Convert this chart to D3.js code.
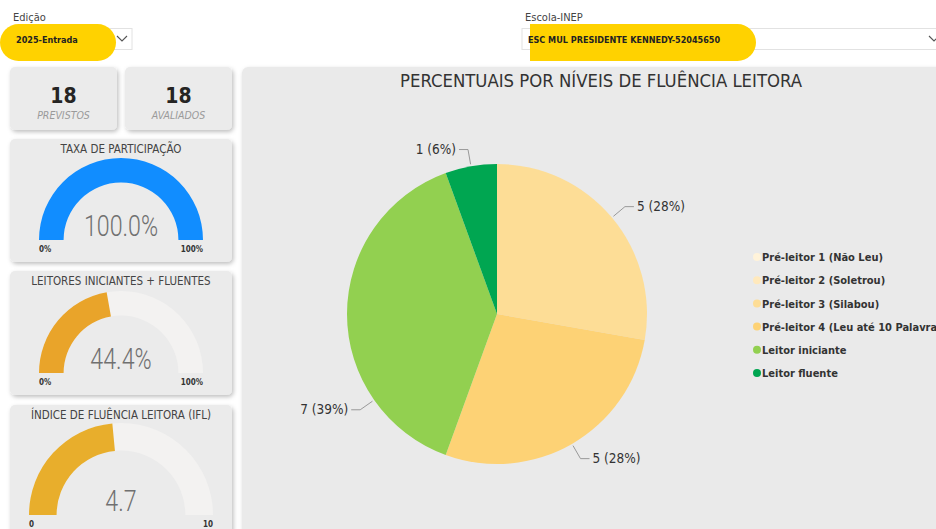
<!DOCTYPE html>
<html>
<head>
<meta charset="utf-8">
<script src="https://cdn.jsdelivr.net/npm/d3@7"></script>
<style>
  body { margin: 0; background: #fff; overflow: hidden; }
  svg { display: block; font-family: "DejaVu Sans Condensed", Roboto, sans-serif; }
</style>
</head>
<body>
<script>
// dados
var edicao = "2025-Entrada";
var escola = "ESC MUL PRESIDENTE KENNEDY-52045650";

var cardLabels = ["PREVISTOS", "AVALIADOS"];
var cardValues = [18, 18];

var gaugeTitles = ["TAXA DE PARTICIPAÇÃO", "LEITORES INICIANTES + FLUENTES", "ÍNDICE DE FLUÊNCIA LEITORA (IFL)"];
var gaugeValues = [100, 44.4, 4.7];
var gaugeMax = [100, 100, 10];
var gaugeText = ["100.0%", "44.4%", "4.7"];
var gaugeMinLabel = ["0%", "0%", "0"];
var gaugeMaxLabel = ["100%", "100%", "10"];

var niveis = ["Pré-leitor 1 (Não Leu)", "Pré-leitor 2 (Soletrou)", "Pré-leitor 3 (Silabou)",
  "Pré-leitor 4 (Leu até 10 Palavras)", "Leitor iniciante", "Leitor fluente"];
var quantidades = [0, 0, 5, 5, 7, 1];
var percentuais = ["0%", "0%", "28%", "28%", "39%", "6%"];

var width = 936, height = 529;

var svg = d3.select("body").append("svg")
  .attr("width", width)
  .attr("height", height);

var defs = svg.append("defs");
var f = defs.append("filter").attr("id", "sombra")
  .attr("x", "-10%").attr("y", "-10%").attr("width", "125%").attr("height", "130%");
f.append("feDropShadow").attr("dx", 1.5).attr("dy", 2).attr("stdDeviation", 2)
  .attr("flood-color", "#000").attr("flood-opacity", 0.25);

//filtros no topo
function filtro(x, label, boxW, hlX, hlW, texto, quadradoEsq) {
  svg.append("text").attr("x", x + 3).attr("y", 21)
    .attr("font-size", 11).attr("fill", "#444").text(label);
  svg.append("rect").attr("x", x).attr("y", 28.5).attr("width", boxW).attr("height", 21)
    .attr("fill", "#fff").attr("stroke", "#e2e2e2");
  // evidenciador amarelo
  var r = 18.5;
  var p = d3.path();
  if (quadradoEsq) {
    p.moveTo(hlX, 24);
    p.lineTo(hlX + hlW - r, 24);
    p.arcTo(hlX + hlW, 24, hlX + hlW, 24 + r, r);
    p.arcTo(hlX + hlW, 61, hlX + hlW - r, 61, r);
    p.lineTo(hlX, 61);
    p.closePath();
    svg.append("path").attr("d", p.toString()).attr("fill", "#FFD200");
  } else {
    svg.append("rect").attr("x", hlX).attr("y", 24).attr("width", hlW).attr("height", 37)
      .attr("rx", r).attr("fill", "#FFD200");
  }
  svg.append("text").attr("x", x + 6).attr("y", 42.5)
    .attr("font-size", 9).attr("font-weight", "bold").attr("fill", "#222").text(texto);
}
filtro(10, "Edição", 122, 0, 116, edicao, false);
filtro(522, "Escola-INEP", 420, 530, 226, escola, true);
svg.append("path").attr("d", "M117,36 l5,5 l5,-5").attr("fill", "none").attr("stroke", "#555").attr("stroke-width", 1.1);
svg.append("path").attr("d", "M929,36 l5,5 l5,-5").attr("fill", "none").attr("stroke", "#555").attr("stroke-width", 1.1);

//cartoes
cardValues.forEach(function (v, i) {
  var x = 10 + i * 115;
  svg.append("rect").attr("x", x).attr("y", 67).attr("width", 107).attr("height", 63)
    .attr("rx", 5).attr("fill", "#EBEBEB").attr("filter", "url(#sombra)");
  svg.append("text").attr("x", x + 53.5).attr("y", 103).attr("text-anchor", "middle")
    .attr("font-size", 21).attr("font-weight", "bold").attr("fill", "#252423").text(v);
  svg.append("text").attr("x", x + 53.5).attr("y", 119).attr("text-anchor", "middle")
    .attr("font-size", 10.5).attr("font-style", "italic").attr("fill", "#9a9a9a").text(cardLabels[i]);
});

//medidores
var gaugeCards = [{ y: 139, h: 123, cy: 240, r: 82 }, { y: 271, h: 124, cy: 373, r: 82 }, { y: 405, h: 140, cy: 515, r: 92 }];
var gaugeCores = ["#118DFF", "#E9A42A", "#E8AE2C"];

gaugeCards.forEach(function (g, i) {
  svg.append("rect").attr("x", 10).attr("y", g.y).attr("width", 222).attr("height", g.h)
    .attr("rx", 5).attr("fill", "#EBEBEB").attr("filter", "url(#sombra)");
  svg.append("text").attr("x", 121).attr("y", g.y + 14).attr("text-anchor", "middle")
    .attr("font-size", 11.5).attr("fill", "#444").text(gaugeTitles[i]);

  var ang = d3.scaleLinear().domain([0, gaugeMax[i]]).range([-Math.PI / 2, Math.PI / 2]);
  var arc = d3.arc().innerRadius(g.r * 0.7).outerRadius(g.r);
  var gg = svg.append("g").attr("transform", "translate(121," + g.cy + ")");
  gg.append("path").attr("d", arc({ startAngle: ang(0), endAngle: ang(gaugeMax[i]) })).attr("fill", "#F3F2F1");
  gg.append("path").attr("d", arc({ startAngle: ang(0), endAngle: ang(gaugeValues[i]) })).attr("fill", gaugeCores[i]);
  var t = gg.append("text").attr("x", 0).attr("y", -4).attr("text-anchor", "middle")
    .attr("font-family", "Roboto, sans-serif")
    .attr("font-size", 29).attr("font-weight", 300).attr("fill", "#707070").text(gaugeText[i]);
  var w = t.node().getComputedTextLength();
  t.attr("textLength", w * 0.8).attr("lengthAdjust", "spacingAndGlyphs");
  gg.append("text").attr("x", -g.r).attr("y", 12).attr("font-size", 8).attr("font-weight", "bold")
    .attr("fill", "#333").text(gaugeMinLabel[i]);
  gg.append("text").attr("x", g.r).attr("y", 12).attr("text-anchor", "end").attr("font-size", 8)
    .attr("font-weight", "bold").attr("fill", "#333").text(gaugeMaxLabel[i]);
});

//painel principal
svg.append("rect").attr("x", 242).attr("y", 67).attr("width", 710).attr("height", 480)
  .attr("rx", 6).attr("fill", "#EAEAEA").attr("filter", "url(#sombra)");
svg.append("text").attr("x", 601).attr("y", 87).attr("text-anchor", "middle")
  .attr("font-size", 18).attr("fill", "#333")
  .attr("textLength", 402).attr("lengthAdjust", "spacingAndGlyphs")
  .text("PERCENTUAIS POR NÍVEIS DE FLUÊNCIA LEITORA");

//pizza
var cores = d3.scaleOrdinal().domain(niveis)
  .range(["#FFF3DA", "#FFE9BD", "#FDDD96", "#FDD275", "#92D050", "#00A651"]);
var dados = niveis.map(function (n, i) { return { nivel: n, qtd: quantidades[i], pct: percentuais[i] }; });
var pie = d3.pie().sort(null).value(function (d) { return d.qtd; });
var cx = 497, cy = 314, raio = 150;
var arcPizza = d3.arc().innerRadius(0).outerRadius(raio);
var gp = svg.append("g").attr("transform", "translate(" + cx + "," + cy + ")");
var fatias = pie(dados).filter(function (d) { return d.data.qtd > 0; });

gp.selectAll("path.fatia").data(fatias).enter().append("path")
  .attr("class", "fatia")
  .attr("d", arcPizza)
  .attr("fill", function (d) { return cores(d.data.nivel); });

// ajuste de posição do rótulo (o Power BI desloca o rótulo da fatia grande)
var ajusteRotulo = { "Leitor iniciante": -35 * Math.PI / 180 };
fatias.forEach(function (d) {
  var a = (d.startAngle + d.endAngle) / 2 + (ajusteRotulo[d.data.nivel] || 0);
  var p0 = [Math.sin(a) * (raio + 2), -Math.cos(a) * (raio + 2)];
  var p1 = [Math.sin(a) * (raio + 17), -Math.cos(a) * (raio + 17)];
  var dir = Math.sin(a) >= 0 ? 1 : -1;
  var p2 = [p1[0] + dir * 9, p1[1]];
  gp.append("polyline").attr("points", [p0, p1, p2].map(function (p) { return p.join(","); }).join(" "))
    .attr("fill", "none").attr("stroke", "#999").attr("stroke-width", 1);
  gp.append("text").attr("x", p2[0] + dir * 3).attr("y", p2[1] + 4.5)
    .attr("text-anchor", dir > 0 ? "start" : "end")
    .attr("font-size", 13.5).attr("font-weight", 500).attr("fill", "#333")
    .text(d.data.qtd + " (" + d.data.pct + ")");
});

//legenda
var leg = svg.append("g").selectAll("g").data(niveis).enter().append("g")
  .attr("transform", function (d, i) { return "translate(757," + (257 + i * 23.2) + ")"; });
leg.append("circle").attr("r", 4).attr("fill", function (d) { return cores(d); });
leg.append("text").attr("x", 5).attr("y", 4.2).attr("font-size", 11).attr("font-weight", 600)
  .attr("fill", "#333").text(function (d) { return d; });
</script>
</body>
</html>
